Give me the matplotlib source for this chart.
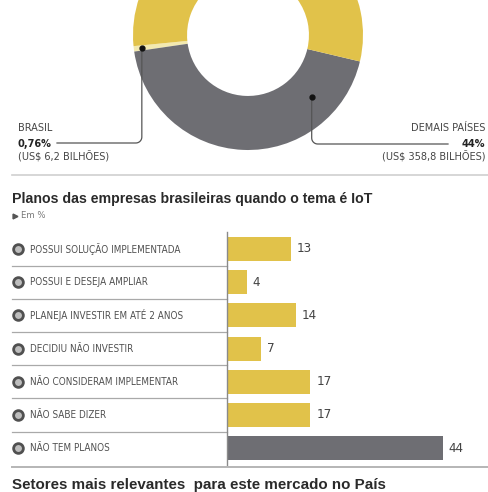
import numpy as np
import matplotlib.pyplot as plt
import matplotlib.transforms as mtransforms

# Dados
fatias = ['Brasil', 'Demais países', 'Outros']
fatias_valores = [0.76, 44, 55.24]
fatias_cores = ['#F2E9B0', '#6E6E73', '#E1C24A']

planos = ['POSSUI SOLUÇÃO IMPLEMENTADA', 'POSSUI E DESEJA AMPLIAR',
          'PLANEJA INVESTIR EM ATÉ 2 ANOS', 'DECIDIU NÃO INVESTIR',
          'NÃO CONSIDERAM IMPLEMENTAR', 'NÃO SABE DIZER', 'NÃO TEM PLANOS']
planos_valores = [13, 4, 14, 7, 17, 17, 44]

AMARELO = '#E1C24A'
CINZA = '#6E6E73'
TEXTO = '#454545'
NARROW = ['DejaVu Sans']
BOLD = ['Liberation Sans', 'DejaVu Sans']

W, H = 488, 492
fig = plt.figure(figsize=(W / 100, H / 100), dpi=100)
fig.patch.set_facecolor('white')

# camada em pixels para textos e linhas
over = fig.add_axes([0, 0, 1, 1])
over.set_xlim(0, W)
over.set_ylim(H, 0)
over.axis('off')
over.set_zorder(5)

# ---- rosca ----
cx, cy, R = 248, 35, 115
axd = fig.add_axes([(cx - R) / W, (H - cy - R) / H, 2 * R / W, 2 * R / H])
start = 188.3 - fatias_valores[0] * 3.6
axd.pie(fatias_valores, colors=fatias_cores, startangle=start, counterclock=True,
        radius=1, wedgeprops=dict(width=0.47, linewidth=0))
axd.set_xlim(-1, 1)
axd.set_ylim(-1, 1)
axd.set_aspect('auto')
axd.axis('off')


def ponto(ang, r):
    a = np.deg2rad(ang)
    return cx + r * R * np.cos(a), cy - r * R * np.sin(a)


def curva(x0, y0, x1, y1, lado):
    # desce do ponto e vira com canto arredondado
    rr = 6
    t = np.linspace(0, np.pi / 2, 10)
    if lado < 0:
        cxr, cyr = x0 - rr, y1 - rr
        xs = cxr + rr * np.cos(t)
        ys = cyr + rr * np.sin(t)
    else:
        cxr, cyr = x0 + rr, y1 - rr
        xs = cxr - rr * np.cos(t)
        ys = cyr + rr * np.sin(t)
    xx = np.concatenate([[x0], xs, [x1]])
    yy = np.concatenate([[y0], ys, [y1]])
    over.plot(xx, yy, color='#555555', lw=0.9)
    over.plot([x0], [y0], 'o', color='#111111', ms=3.5)


bx, by = ponto(start + fatias_valores[0] * 1.8, 0.93)
curva(bx, by, 57, 143, -1)
dx, dy = ponto(316, 0.77)
curva(dx, dy, 448, 144, 1)

kw = dict(family=NARROW, stretch='condensed', fontsize=7.8, va='center')
over.text(18, 128, 'BRASIL', color=TEXTO, **kw)
over.text(18, 144, '0,76%', weight='bold', color='#222222', **kw)
over.text(18, 157, '(US$ 6,2 BILHÕES)', color=TEXTO, **kw)
over.text(485, 128, 'DEMAIS PAÍSES', color=TEXTO, ha='right', **kw)
over.text(485, 144, '44%', weight='bold', color='#222222', ha='right', **kw)
over.text(485, 157, '(US$ 358,8 BILHÕES)', color=TEXTO, ha='right', **kw)

over.plot([12, 488], [175, 175], color='#cfcfcf', lw=1.2)

# ---- títulos ----
over.text(12, 199, 'Planos das empresas brasileiras quando o tema é IoT', family=BOLD,
          fontsize=10.2, weight='bold', color='#2a2a2a', va='center')
over.plot([14.5], [216], marker='>', color='#555555', ms=3.5)
over.text(21, 216, 'Em %', family=NARROW, stretch='condensed', fontsize=6.8,
          color='#777777', va='center')

# ---- barras ----
x0px, ppu, top, row = 227, 4.9, 232.4, 33.2
n = len(planos)
axb = fig.add_axes([x0px / W, (H - top - n * row) / H, 53 * ppu / W, n * row / H])
y = np.arange(n)
cores = [AMARELO] * (n - 1) + [CINZA]
axb.barh(y, planos_valores, height=0.72, color=cores)
axb.set_xlim(0, 53)
axb.set_ylim(n - 0.5, -0.5)
axb.set_xticks([])
axb.set_yticks([])
for s in ['top', 'right', 'bottom']:
    axb.spines[s].set_visible(False)
axb.spines['left'].set_color('#8a8a8a')
axb.spines['left'].set_linewidth(1.0)
axb.patch.set_alpha(0)

for yi, v in zip(y, planos_valores):
    axb.text(v + 1.2, yi, str(v), family=NARROW, stretch='condensed', fontsize=9.5,
             color='#444444', va='center')

trans = mtransforms.blended_transform_factory(axb.transAxes, axb.transData)
wpx = 53 * ppu


def fx(px):
    return (px - x0px) / wpx


for yi, nome in zip(y, planos):
    axb.plot([fx(18)], [yi], 'o', ms=7, mfc='#bdbdbd', mec='#505050', mew=2,
             transform=trans, clip_on=False)
    axb.text(fx(30), yi, nome, family=NARROW, stretch='condensed', fontsize=7.1,
             color='#505050', va='center', transform=trans, clip_on=False)
for yi in y[:-1]:
    axb.plot([fx(12), 0], [yi + 0.5, yi + 0.5], color='#a9a9a9', lw=0.9,
             transform=trans, clip_on=False)

over.plot([12, 488], [467, 467], color='#b5b5b5', lw=1.4)
over.text(12, 485, 'Setores mais relevantes  para este mercado no País', family=BOLD,
          fontsize=10.9, weight='bold', color='#2a2a2a', va='center')

fig.savefig('out.png', dpi=100, facecolor='white')
